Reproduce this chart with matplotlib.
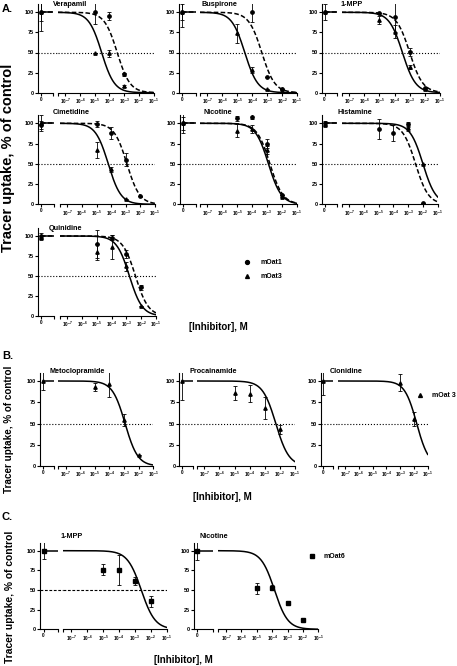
import numpy as np
import matplotlib
matplotlib.use('Agg')
import matplotlib.pyplot as plt
from matplotlib.lines import Line2D

plt.rcParams['font.family'] = ['Liberation Sans', 'DejaVu Sans']
plt.rcParams['font.weight'] = 'bold'
plt.rcParams['mathtext.fontset'] = 'custom'
plt.rcParams['mathtext.rm'] = 'Liberation Sans:bold'
plt.rcParams['mathtext.it'] = 'Liberation Sans:bold'
plt.rcParams['mathtext.bf'] = 'Liberation Sans:bold'

# ---- data (% of control, molar inhibitor) ----
# A: mOat1 (circles, dashed fit) and mOat3 (triangles, solid fit)
verapamil_c1 = [0, 1e-5, 1e-4, 1e-3]
verapamil_oat1 = [100, 100, 95, 23]
verapamil_oat1_err = [11, 15, 5, 2]
verapamil_c3 = [0, 1e-5, 1e-4, 1e-3]
verapamil_oat3 = [100, 50, 49, 8]
verapamil_oat3_err = [23, 0, 4, 1]
verapamil_logic50 = [-3.47, -4.53]

buspirone_c1 = [0, 1e-4, 1e-3, 1e-2]
buspirone_oat1 = [100, 100, 20, 5]
buspirone_oat1_err = [18, 12, 0, 0]
buspirone_c3 = [0, 1e-5, 1e-4, 1e-3, 1e-2]
buspirone_oat3 = [100, 74, 28, 5, 4]
buspirone_oat3_err = [10, 12, 4, 0, 0]
buspirone_logic50 = [-3.36, -4.5]

mpp_c1 = [0, 1e-5, 1e-4, 1e-3, 1e-2]
mpp_oat1 = [100, 99, 94, 51, 6]
mpp_oat1_err = [10, 0, 18, 5, 0]
mpp_c3 = [0, 1e-5, 1e-4, 1e-3, 1e-2]
mpp_oat3 = [100, 91, 76, 32, 4]
mpp_oat3_err = [0, 5, 8, 3, 0]
mpp_logic50 = [-3.0, -3.48]

cimetidine_c1 = [0, 1e-5, 1e-4, 1e-3, 1e-2]
cimetidine_oat1 = [98, 99, 88, 55, 10]
cimetidine_oat1_err = [5, 4, 7, 8, 0]
cimetidine_c3 = [0, 1e-5, 1e-4, 1e-3]
cimetidine_oat3 = [100, 67, 43, 6]
cimetidine_oat3_err = [10, 10, 3, 0]
cimetidine_logic50 = [-2.92, -4.2]

nicotine_c1 = [0, 1e-5, 1e-4, 1e-3, 1e-2]
nicotine_oat1 = [100, 106, 108, 75, 11]
nicotine_oat1_err = [12, 3, 3, 6, 0]
nicotine_c3 = [0, 1e-5, 1e-4, 1e-3, 1e-2]
nicotine_oat3 = [100, 91, 93, 67, 9]
nicotine_oat3_err = [8, 8, 5, 5, 0]
nicotine_logic50 = [-2.8, -2.9]

histamine_c1 = [0, 1e-5, 1e-4, 1e-3, 1e-2]
histamine_oat1 = [100, 93, 88, 99, 2]
histamine_oat1_err = [3, 12, 10, 3, 0]
histamine_c3 = [0, 1e-3, 1e-2]
histamine_oat3 = [98, 94, 50]
histamine_oat3_err = [0, 3, 0]
histamine_logic50 = [-2.5, -2.0]

quinidine_c1 = [0, 1e-5, 1e-4, 1e-3, 1e-2]
quinidine_oat1 = [100, 90, 98, 78, 36]
quinidine_oat1_err = [4, 18, 3, 5, 3]
quinidine_c3 = [0, 1e-5, 1e-4, 1e-3, 1e-2]
quinidine_oat3 = [98, 80, 86, 62, 12]
quinidine_oat3_err = [0, 10, 15, 6, 0]
quinidine_logic50 = [-2.39, -2.8]

# B: mOat3 only
metoclopramide_c = [0, 1e-5, 1e-4, 1e-3, 1e-2]
metoclopramide_y = [100, 93, 96, 54, 13]
metoclopramide_err = [11, 5, 15, 7, 0]
metoclopramide_logic50 = -2.93

procainamide_c = [0, 1e-5, 1e-4, 1e-3, 1e-2]
procainamide_y = [100, 86, 85, 68, 43]
procainamide_err = [22, 8, 10, 13, 5]
procainamide_logic50 = -2.27

clonidine_c = [0, 1e-3, 1e-2]
clonidine_y = [100, 98, 55]
clonidine_err = [16, 10, 8]
clonidine_logic50 = -1.8

# C: mOat6 only
mpp6_c = [0, 1e-5, 1e-4, 1e-3, 1e-2]
mpp6_y = [100, 76, 75, 61, 36]
mpp6_err = [11, 7, 19, 5, 7]
mpp6_logic50 = -2.6

nicotine6_c = [0, 1e-5, 1e-4, 1e-3, 1e-2]
nicotine6_y = [100, 52, 53, 33, 12]
nicotine6_err = [12, 7, 3, 0, 0]
nicotine6_logic50 = -3.85

# ---- layout ----
W, H = 457, 666
LOG_LO, LOG_HI = -7.5, -1.0
fig = plt.figure(figsize=(W / 100, H / 100), dpi=100)


def px_axes(x0, x1, ytop, ybot):
    return fig.add_axes([x0 / W, 1 - ybot / H, (x1 - x0) / W, (ybot - ytop) / H])


def hill(conc, logic50, slope=1.0):
    return 100 / (1 + 10 ** ((np.log10(conc) - logic50) * slope))


def panel(box, title, title_xy, series, ref=':'):
    xa, xb, xm0, xm1, y100, y0 = box
    ytop = y0 - 1.1 * (y0 - y100)
    axl = px_axes(xa, xb, ytop, y0)
    axm = px_axes(xm0, xm1, ytop, y0)
    for ax in (axl, axm):
        ax.set_ylim(0, 110)
        ax.patch.set_alpha(0)
        for s in ('top', 'right'):
            ax.spines[s].set_visible(False)
        ax.spines['bottom'].set_linewidth(0.8)
        ax.spines['left'].set_linewidth(0.8)
        ax.tick_params(direction='out', length=2, width=0.8, labelsize=3.4, pad=1)
    axm.spines['left'].set_visible(False)
    axm.tick_params(axis='y', left=False, labelleft=False)

    axl.set_xlim(-0.25, 1)
    axl.set_xticks([0, 1], ['0', ''])
    axl.set_yticks([0, 25, 50, 75, 100])
    axl.tick_params(axis='y', labelsize=4, pad=0.8)

    axm.set_xscale('log')
    axm.set_xlim(10 ** LOG_LO, 10 ** LOG_HI)
    decades = list(range(-7, 0))
    axm.set_xticks([10 ** LOG_LO] + [10.0 ** d for d in decades],
                   [''] + [f'$10^{{{d}}}$' for d in decades])
    axm.minorticks_off()

    if ref is not None:
        lw = 0.8
        axl.axhline(50, 0, (xm0 - xa) / (xb - xa), color='k', ls=ref, lw=lw, clip_on=False)
        axm.axhline(50, color='k', ls=ref, lw=lw)

    xs = np.logspace(LOG_LO, LOG_HI, 300)
    for conc, y, err, logic, marker, ls in series:
        conc = np.asarray(conc, float)
        y = np.asarray(y, float)
        err = np.asarray(err, float)
        z = conc == 0
        kw = dict(fmt=marker, color='k', ms=2.4, elinewidth=0.6, capsize=1.3, capthick=0.6)
        axl.errorbar(conc[z], y[z], yerr=err[z], **kw)
        axm.errorbar(conc[~z], y[~z], yerr=err[~z], **kw)
        axm.plot(xs, hill(xs, logic), color='k', lw=1.1, ls=ls)
        axl.plot([0, 1], [hill(1e-12, logic)] * 2, color='k', lw=1.1, ls=ls)

    fig.text(title_xy[0] / W, 1 - title_xy[1] / H, title, fontsize=5.2,
             fontweight='bold', ha='left', va='center')
    return axl, axm


DASH = (0, (3, 1.5))


def pair(c1, y1, e1, c3, y3, e3, ic):
    return [(c1, y1, e1, ic[0], 'o', DASH), (c3, y3, e3, ic[1], '^', '-')]


rowA1 = (12.3, 92.7)
rowA2 = (123.3, 204.3)
rowA3 = (236.0, 316.0)
rowB = (381.0, 466.0)
rowC = (550.7, 629.3)

panel((38, 53, 58, 153.5) + rowA1, 'Verapamil', (53, 4.5),
      pair(verapamil_c1, verapamil_oat1, verapamil_oat1_err,
           verapamil_c3, verapamil_oat3, verapamil_oat3_err, verapamil_logic50))
panel((179, 196, 200, 297) + rowA1, 'Buspirone', (202, 4.5),
      pair(buspirone_c1, buspirone_oat1, buspirone_oat1_err,
           buspirone_c3, buspirone_oat3, buspirone_oat3_err, buspirone_logic50))
panel((321.5, 336.5, 341.5, 440) + rowA1, '1-MPP', (340, 4.5),
      pair(mpp_c1, mpp_oat1, mpp_oat1_err, mpp_c3, mpp_oat3, mpp_oat3_err, mpp_logic50))
panel((38, 53.5, 60, 155) + rowA2, 'Cimetidine', (53, 112.5),
      pair(cimetidine_c1, cimetidine_oat1, cimetidine_oat1_err,
           cimetidine_c3, cimetidine_oat3, cimetidine_oat3_err, cimetidine_logic50))
panel((180, 195.5, 200, 296.7) + rowA2, 'Nicotine', (203, 112.5),
      pair(nicotine_c1, nicotine_oat1, nicotine_oat1_err,
           nicotine_c3, nicotine_oat3, nicotine_oat3_err, nicotine_logic50))
panel((321.5, 336.5, 341.7, 437.7) + rowA2, 'Histamine', (338, 112.5),
      pair(histamine_c1, histamine_oat1, histamine_oat1_err,
           histamine_c3, histamine_oat3, histamine_oat3_err, histamine_logic50))
_, axq = panel((38, 53.5, 60, 156) + rowA3, 'Quinidine', (49, 228.5),
               pair(quinidine_c1, quinidine_oat1, quinidine_oat1_err,
                    quinidine_c3, quinidine_oat3, quinidine_oat3_err, quinidine_logic50))

panel((40, 53.5, 58.3, 153.3) + rowB, 'Metoclopramide', (49, 372),
      [(metoclopramide_c, metoclopramide_y, metoclopramide_err, metoclopramide_logic50, '^', '-')])
panel((179.3, 193.3, 196.7, 295) + rowB, 'Procainamide', (190, 372),
      [(procainamide_c, procainamide_y, procainamide_err, procainamide_logic50, '^', '-')])
_, axc = panel((320.7, 333.3, 338.3, 427.7) + rowB, 'Clonidine', (330, 372),
               [(clonidine_c, clonidine_y, clonidine_err, clonidine_logic50, '^', '-')])

panel((40, 58.3, 63.3, 166.7) + rowC, '1-MPP', (60, 537),
      [(mpp6_c, mpp6_y, mpp6_err, mpp6_logic50, 's', '-')], ref=(0, (2.5, 1.5)))
_, axn = panel((193.5, 213, 218.3, 318.3) + rowC, 'Nicotine', (200, 537),
               [(nicotine6_c, nicotine6_y, nicotine6_err, nicotine6_logic50, 's', '-')], ref=None)


def legend(ax, markers, labels, x, y, pad=1.3):
    fs = 5
    hs = [Line2D([], [], marker=m, ls='none', color='k', ms=2.8) for m in markers]
    em = fs * 100 / 72
    ax.legend(hs, labels, loc='upper left', frameon=False, fontsize=fs,
              handlelength=1, handletextpad=pad, labelspacing=1.0,
              borderpad=0, borderaxespad=0,
              bbox_to_anchor=((x - em / 2) / W, 1 - y / H), bbox_transform=fig.transFigure)


legend(axq, ['o', '^'], ['mOat1', 'mOat3'], 247, 259, pad=1.5)
legend(axc, ['^'], ['mOat 3'], 420, 392, pad=1.2)
legend(axn, ['s'], ['mOat6'], 312, 553, pad=1.2)

# section letters, shared axis labels
for letter, yy in [('A.', 9), ('B.', 356), ('C.', 517.5)]:
    fig.text(2 / W, 1 - yy / H, letter, fontsize=8, fontweight='bold', va='center')

ylab = 'Tracer uptake, % of control'
fig.text(8 / W, 1 - 158 / H, ylab, rotation=90, fontsize=10.5, fontweight='bold', ha='center', va='center')
fig.text(9 / W, 1 - 429 / H, ylab, rotation=90, fontsize=7.1, fontweight='bold', ha='center', va='center')
fig.text(10 / W, 1 - 597 / H, ylab, rotation=90, fontsize=7.4, fontweight='bold', ha='center', va='center')

xlab = '[Inhibitor], M'
fig.text(218 / W, 1 - 327 / H, xlab, fontsize=7, fontweight='bold', ha='center', va='center')
fig.text(222 / W, 1 - 497 / H, xlab, fontsize=7, fontweight='bold', ha='center', va='center')
fig.text(183 / W, 1 - 660 / H, xlab, fontsize=7, fontweight='bold', ha='center', va='center')

fig.savefig('out.png', dpi=100)
